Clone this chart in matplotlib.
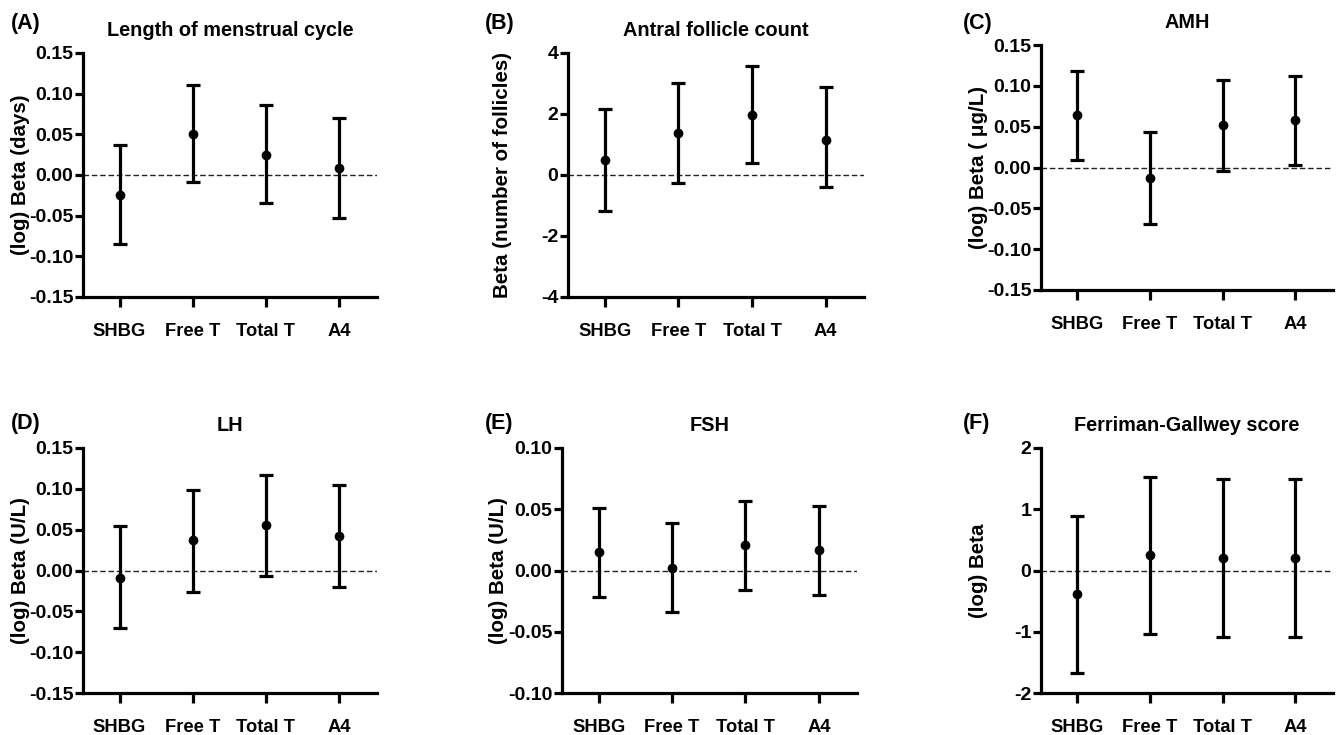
import matplotlib
matplotlib.use("Agg")
import matplotlib.pyplot as plt

plt.rcParams['font.family'] = ['Liberation Sans', 'DejaVu Sans']
plt.rcParams['font.weight'] = 'bold'

# hormones on the x axis
hormones = ['SHBG', 'Free T', 'Total T', 'A4']

# panel data: estimate, lower CI, upper CI
cycle_beta = [-0.024, 0.051, 0.024, 0.008]
cycle_lo = [-0.085, -0.009, -0.035, -0.053]
cycle_hi = [0.037, 0.111, 0.086, 0.070]

afc_beta = [0.50, 1.37, 1.98, 1.14]
afc_lo = [-1.17, -0.26, 0.38, -0.40]
afc_hi = [2.17, 3.03, 3.59, 2.90]

amh_beta = [0.064, -0.013, 0.0515, 0.058]
amh_lo = [0.009, -0.069, -0.004, 0.003]
amh_hi = [0.1185, 0.043, 0.107, 0.112]

lh_beta = [-0.009, 0.037, 0.056, 0.042]
lh_lo = [-0.071, -0.026, -0.007, -0.020]
lh_hi = [0.054, 0.099, 0.117, 0.1045]

fsh_beta = [0.015, 0.002, 0.021, 0.017]
fsh_lo = [-0.022, -0.034, -0.016, -0.020]
fsh_hi = [0.051, 0.039, 0.057, 0.053]

fg_beta = [-0.39, 0.25, 0.21, 0.21]
fg_lo = [-1.68, -1.03, -1.08, -1.09]
fg_hi = [0.89, 1.52, 1.49, 1.49]

panels = [
    ('(A)', 'Length of menstrual cycle', '(log) Beta (days)', cycle_beta, cycle_lo, cycle_hi,
     (-0.15, 0.15), [-0.15, -0.10, -0.05, 0.00, 0.05, 0.10, 0.15], '{:.2f}'),
    ('(B)', 'Antral follicle count', 'Beta (number of follicles)', afc_beta, afc_lo, afc_hi,
     (-4, 4), [-4, -2, 0, 2, 4], '{:.0f}'),
    ('(C)', 'AMH', '(log) Beta ( \u03bcg/L)', amh_beta, amh_lo, amh_hi,
     (-0.15, 0.15), [-0.15, -0.10, -0.05, 0.00, 0.05, 0.10, 0.15], '{:.2f}'),
    ('(D)', 'LH', '(log) Beta (U/L)', lh_beta, lh_lo, lh_hi,
     (-0.15, 0.15), [-0.15, -0.10, -0.05, 0.00, 0.05, 0.10, 0.15], '{:.2f}'),
    ('(E)', 'FSH', '(log) Beta (U/L)', fsh_beta, fsh_lo, fsh_hi,
     (-0.10, 0.10), [-0.10, -0.05, 0.00, 0.05, 0.10], '{:.2f}'),
    ('(F)', 'Ferriman-Gallwey score', '(log) Beta', fg_beta, fg_lo, fg_hi,
     (-2, 2), [-2, -1, 0, 1, 2], '{:.0f}'),
]

W, H = 1343, 735
# axes boxes in pixels: left, right, top, bottom ; ylabel x ; panel label x
boxes = [
    (83, 377, 53, 297, 21, 26),
    (568, 864, 53, 297, 503, 500),
    (1041, 1333, 45, 290, 978, 978),
    (83, 377, 448, 693, 21, 26),
    (562, 857, 448, 693, 498, 499),
    (1041, 1333, 448, 693, 978, 977),
]
label_y = [23, 23, 23, 423, 423, 423]

fig = plt.figure(figsize=(W / 100, H / 100), dpi=100)

for (tag, title, ylab, beta, lo, hi, ylim, yticks, fmt), (l, r, t, b, ylx, tx), ty in zip(panels, boxes, label_y):
    ax = fig.add_axes([l / W, 1 - b / H, (r - l) / W, (b - t) / H])
    x = list(range(len(hormones)))
    err = [[bv - lv for bv, lv in zip(beta, lo)], [hv - bv for bv, hv in zip(beta, hi)]]
    ax.axhline(0, color='#222222', lw=1.0, ls=(0, (4, 2)), zorder=1)
    ax.errorbar(x, beta, yerr=err, fmt='o', color='black', ms=6, elinewidth=2.3,
                capsize=5, capthick=2.3, zorder=3)
    ax.set_xlim(-0.5, 3.52)
    ax.set_ylim(*ylim)
    ax.set_yticks(yticks)
    ax.set_yticklabels([fmt.format(v) for v in yticks])
    ax.set_xticks(x)
    ax.set_xticklabels(hormones)
    for s in ['top', 'right']:
        ax.spines[s].set_visible(False)
    for s in ['left', 'bottom']:
        ax.spines[s].set_linewidth(2.3)
    ax.tick_params(axis='y', length=6, width=2.3, labelsize=14, pad=1)
    ax.tick_params(axis='x', length=7, width=2.3, labelsize=13.2, pad=12)
    ax.set_title(title, fontsize=14.3, fontweight='bold', pad=12)
    fig.text(ylx / W, 1 - ((t + b) / 2) / H, ylab, rotation=90, ha='center', va='center',
             fontsize=14.8, fontweight='bold')
    fig.text(tx / W, 1 - ty / H, tag, ha='center', va='center', fontsize=15.5, fontweight='bold')

plt.savefig('out.png', dpi=100)
